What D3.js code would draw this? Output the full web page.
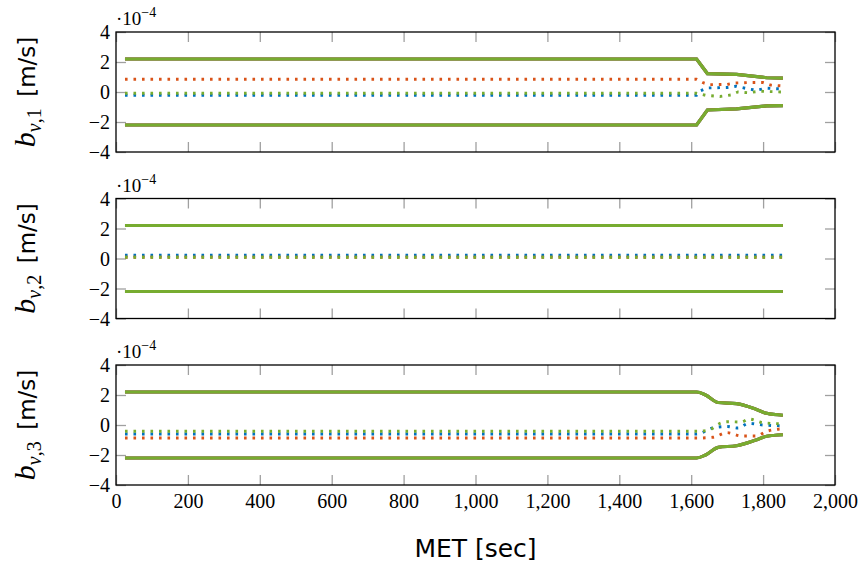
<!DOCTYPE html>
<html>
<head>
<meta charset="utf-8">
<script src="https://cdn.jsdelivr.net/npm/d3@7"></script>
<style>
  body { margin: 0; background: #fff; }
</style>
</head>
<body>
<div id="chart"></div>
<script>
// ---- data (values in units of 1e-4 m/s) ----
const xTicks = [0, 200, 400, 600, 800, 1000, 1200, 1400, 1600, 1800, 2000];
const yTicks = [-4, -2, 0, 2, 4];
const panelNames = ["1", "2", "3"];

// panel 1
const p1BoundT = [25, 1615, 1645, 1726, 1810, 1855];
const p1UpperV = [2.2, 2.2, 1.23, 1.18, 0.95, 0.93];
const p1LowerV = [-2.2, -2.2, -1.2, -1.13, -0.92, -0.91];
const p1BlueT = [25, 1615, 1625, 1645, 1700, 1725, 1760, 1780, 1810, 1855];
const p1BlueV = [-0.22, -0.22, 0.07, 0.27, 0.3, 0.38, 0.2, 0.12, 0.25, 0.2];
const p1OrangeT = [25, 1615, 1635, 1650, 1700, 1720, 1760, 1800, 1820, 1855];
const p1OrangeV = [0.85, 0.85, 0.6, 0.49, 0.5, 0.6, 0.63, 0.63, 0.47, 0.4];
const p1GreenT = [25, 1615, 1640, 1680, 1710, 1730, 1760, 1790, 1855];
const p1GreenV = [-0.08, -0.08, -0.22, -0.3, -0.2, 0.0, -0.05, 0.05, 0.0];

// panel 2
const p2BoundT = [25, 1855];
const p2UpperV = [2.2, 2.2];
const p2LowerV = [-2.2, -2.2];
const p2BlueT = [25, 1855];
const p2BlueV = [0.22, 0.22];
const p2OrangeT = [25, 1855];
const p2OrangeV = [0.08, 0.08];
const p2GreenT = [25, 1855];
const p2GreenV = [0.08, 0.08];

// panel 3
const p3BoundT = [25, 1615, 1640, 1675, 1726, 1780, 1810, 1855];
const p3UpperV = [2.2, 2.2, 2.0, 1.5, 1.42, 1.05, 0.78, 0.65];
const p3LowerV = [-2.2, -2.2, -2.0, -1.49, -1.38, -1.0, -0.75, -0.65];
const p3BlueT = [25, 1615, 1660, 1700, 1730, 1760, 1800, 1855];
const p3BlueV = [-0.6, -0.6, -0.2, -0.1, -0.2, 0.11, 0.0, -0.05];
const p3OrangeT = [25, 1615, 1660, 1700, 1740, 1780, 1810, 1855];
const p3OrangeV = [-0.87, -0.87, -0.82, -0.51, -0.73, -0.73, -0.42, -0.25];
const p3GreenT = [25, 1615, 1650, 1680, 1700, 1740, 1760, 1800, 1855];
const p3GreenV = [-0.42, -0.42, -0.33, 0.11, 0.22, 0.2, 0.4, 0.15, 0.08];

const panels = [
  { bound: p1BoundT, upper: p1UpperV, lower: p1LowerV, blue: [p1BlueT, p1BlueV], orange: [p1OrangeT, p1OrangeV], green: [p1GreenT, p1GreenV], curve: d3.curveLinear },
  { bound: p2BoundT, upper: p2UpperV, lower: p2LowerV, blue: [p2BlueT, p2BlueV], orange: [p2OrangeT, p2OrangeV], green: [p2GreenT, p2GreenV], curve: d3.curveLinear },
  { bound: p3BoundT, upper: p3UpperV, lower: p3LowerV, blue: [p3BlueT, p3BlueV], orange: [p3OrangeT, p3OrangeV], green: [p3GreenT, p3GreenV], curve: d3.curveMonotoneX }
];

const
  width = 859,
  height = 563,
  plot = { left: 116, right: 835 },
  panelTops = [32, 198.5, 365],
  panelH = 120,
  tickLen = 10,
  colors = { blue: "#0072BD", orange: "#D95319", green: "#77AC30", tick: "#a0a0a0" },
  serif = "'Liberation Serif', 'DejaVu Serif', serif",
  sans = "'DejaVu Sans', 'Open Sans', sans-serif";

const svg = d3.select("#chart").append("svg")
  .attr("width", width)
  .attr("height", height);

const x = d3.scaleLinear().domain([0, 2000]).range([plot.left, plot.right]);

const zip = (t, v) => t.map((d, i) => ({ t: d, v: v[i] }));

function drawPanel(p, k) {
  const top = panelTops[k];
  const y = d3.scaleLinear().domain([-4, 4]).range([top + panelH, top]);
  const g = svg.append("g");

  // ticks inside, on all four sides
  g.append("g")
    .attr("transform", `translate(0,${top + panelH})`)
    .call(d3.axisTop(x).tickValues(xTicks).tickSize(tickLen).tickFormat(""))
    .call(a => a.select(".domain").remove())
    .call(a => a.selectAll("line").attr("stroke", colors.tick).attr("stroke-width", 1.3));
  g.append("g")
    .attr("transform", `translate(0,${top})`)
    .call(d3.axisBottom(x).tickValues(xTicks).tickSize(tickLen).tickFormat(""))
    .call(a => a.select(".domain").remove())
    .call(a => a.selectAll("line").attr("stroke", colors.tick).attr("stroke-width", 1.3));
  g.append("g")
    .attr("transform", `translate(${plot.left},0)`)
    .call(d3.axisRight(y).tickValues(yTicks).tickSize(tickLen).tickFormat(""))
    .call(a => a.select(".domain").remove())
    .call(a => a.selectAll("line").attr("stroke", colors.tick).attr("stroke-width", 1.3));
  g.append("g")
    .attr("transform", `translate(${plot.right},0)`)
    .call(d3.axisLeft(y).tickValues(yTicks).tickSize(tickLen).tickFormat(""))
    .call(a => a.select(".domain").remove())
    .call(a => a.selectAll("line").attr("stroke", colors.tick).attr("stroke-width", 1.3));

  // y tick labels
  g.append("g")
    .attr("transform", `translate(${plot.left - 6},0)`)
    .call(d3.axisLeft(y).tickValues(yTicks).tickSize(0).tickPadding(0)
      .tickFormat(d => d < 0 ? "\u2212" + Math.abs(d) : d))
    .call(a => a.select(".domain").remove())
    .call(a => a.selectAll("text")
      .attr("font-family", serif).attr("font-size", 20).attr("fill", "#000").attr("dy", "0.34em"));

  const line = d3.line()
    .x(d => x(d.t))
    .y(d => y(d.v))
    .curve(p.curve);

  // bounds (solid), green on top
  ["blue", "orange", "green"].forEach(c => {
    [p.upper, p.lower].forEach(vals => {
      g.append("path")
        .datum(zip(p.bound, vals))
        .attr("fill", "none")
        .attr("stroke", colors[c])
        .attr("stroke-width", 3.2)
        .attr("d", line);
    });
  });

  // estimates (dotted)
  ["blue", "orange", "green"].forEach(c => {
    g.append("path")
      .datum(zip(p[c][0], p[c][1]))
      .attr("fill", "none")
      .attr("stroke", colors[c])
      .attr("stroke-width", 2.9)
      .attr("stroke-dasharray", "2.6 5.9")
      .attr("d", line);
  });

  // frame
  g.append("rect")
    .attr("x", plot.left)
    .attr("y", top)
    .attr("width", plot.right - plot.left)
    .attr("height", panelH)
    .attr("fill", "none")
    .attr("stroke", "#000")
    .attr("stroke-width", 1.3);

  // scale factor label
  const sf = g.append("text")
    .attr("x", plot.left)
    .attr("y", top - 7)
    .attr("font-family", serif)
    .attr("font-size", 19);
  sf.append("tspan").text("\u00b710");
  sf.append("tspan").attr("font-size", 14).attr("dy", -8).text("\u22124");

  // y label
  const yl = g.append("text")
    .attr("transform", `translate(35,${top + panelH / 2}) rotate(-90)`)
    .attr("text-anchor", "middle");
  yl.append("tspan")
    .attr("font-family", serif).attr("font-style", "italic").attr("font-size", 30)
    .text("b");
  yl.append("tspan")
    .attr("font-family", serif).attr("font-style", "italic").attr("font-size", 20)
    .attr("dy", 6).text("v");
  yl.append("tspan")
    .attr("font-family", serif).attr("font-size", 20)
    .text("," + panelNames[k]);
  yl.append("tspan")
    .attr("font-family", sans).attr("font-size", 23)
    .attr("dy", -6).text("\u2002[m/s]");
}

panels.forEach(drawPanel);

// x tick labels under the last panel
svg.append("g")
  .attr("transform", `translate(0,${panelTops[2] + panelH + 6})`)
  .call(d3.axisBottom(x).tickValues(xTicks).tickSize(0).tickPadding(0)
    .tickFormat(d3.format(",")))
  .call(a => a.select(".domain").remove())
  .call(a => a.selectAll("text")
    .attr("font-family", serif).attr("font-size", 20).attr("fill", "#000").attr("dy", "0.85em"));

svg.append("text")
  .attr("x", (plot.left + plot.right) / 2)
  .attr("y", 557)
  .attr("text-anchor", "middle")
  .attr("font-family", sans)
  .attr("font-size", 25)
  .text("MET [sec]");
</script>
</body>
</html>
